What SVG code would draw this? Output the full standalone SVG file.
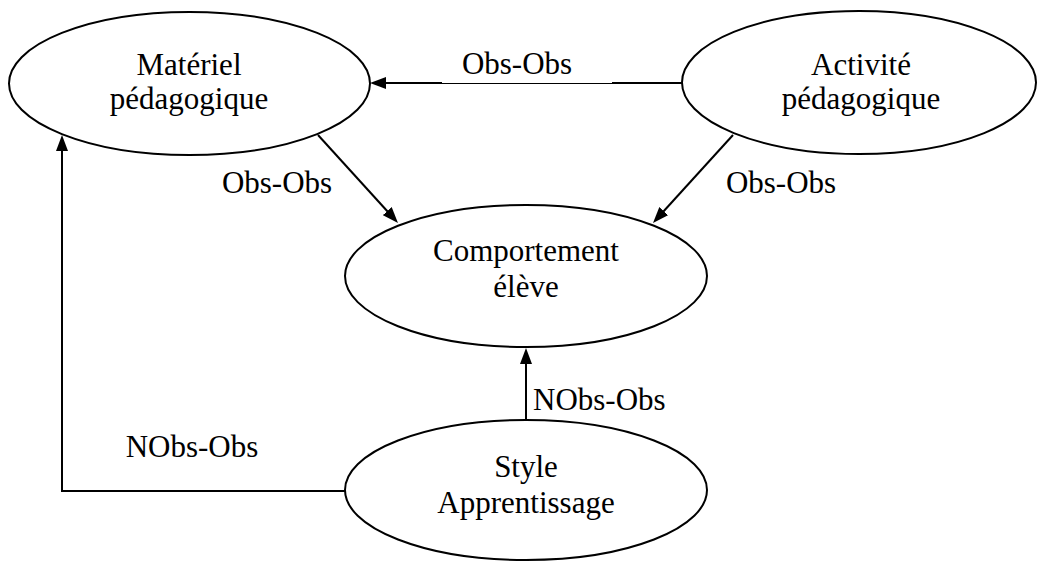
<svg xmlns="http://www.w3.org/2000/svg" width="1037" height="562" viewBox="0 0 1037 562">
  <style>
    .node ellipse { fill: #ffffff; stroke: #000000; stroke-width: 2; }
    text { font-family: "Liberation Serif", "Times New Roman", serif; font-size: 31px; fill: #000000; }
    .c { text-anchor: middle; }
    .edge { fill: none; stroke: #000000; stroke-width: 2; }
    .thin { fill: none; stroke: #000000; stroke-width: 1; }
  </style>
  <defs>
    <marker id="arrow" markerUnits="userSpaceOnUse" markerWidth="16" markerHeight="12" refX="12" refY="6" orient="auto">
      <path d="M0,0 L16,6 L0,12 z" fill="#000000"/>
    </marker>
  </defs>
  <rect x="0" y="0" width="1037" height="562" fill="#ffffff"/>

  <g id="connectors">
    <g id="e-activite-materiel">
      <line class="edge" x1="682" y1="83" x2="612" y2="83"/>
      <line class="thin" x1="612" y1="83.5" x2="442" y2="83.5"/>
      <line class="edge" x1="442" y1="83" x2="374" y2="83" marker-end="url(#arrow)"/>
      <text class="c" x="517" y="74">Obs-Obs</text>
    </g>
    <g id="e-materiel-comportement">
      <line class="edge" x1="318" y1="135" x2="395.3" y2="220" marker-end="url(#arrow)"/>
      <text class="c" x="277" y="193">Obs-Obs</text>
    </g>
    <g id="e-activite-comportement">
      <line class="edge" x1="733" y1="135" x2="655.7" y2="220" marker-end="url(#arrow)"/>
      <text class="c" x="781" y="193">Obs-Obs</text>
    </g>
    <g id="e-style-comportement">
      <line class="edge" x1="526" y1="419" x2="526" y2="352" marker-end="url(#arrow)"/>
      <text x="533" y="410">NObs-Obs</text>
    </g>
    <g id="e-style-materiel">
      <polyline class="edge" points="345,491 62,491 62,139" marker-end="url(#arrow)"/>
      <text class="c" x="192" y="457">NObs-Obs</text>
    </g>
  </g>

  <g id="n-materiel" class="node">
    <ellipse cx="189.5" cy="83.5" rx="180.5" ry="71.5"/>
    <text class="c" x="189" y="75">Matériel</text>
    <text class="c" x="189" y="109">pédagogique</text>
  </g>
  <g id="n-activite" class="node">
    <ellipse cx="859" cy="82.5" rx="177" ry="71.5"/>
    <text class="c" x="861" y="75">Activité</text>
    <text class="c" x="861" y="109">pédagogique</text>
  </g>
  <g id="n-comportement" class="node">
    <ellipse cx="526" cy="276" rx="181" ry="71"/>
    <text class="c" x="526" y="261">Comportement</text>
    <text class="c" x="526" y="297">élève</text>
  </g>
  <g id="n-style" class="node">
    <ellipse cx="526" cy="490" rx="181" ry="70"/>
    <text class="c" x="526" y="477">Style</text>
    <text class="c" x="526" y="513">Apprentissage</text>
  </g>
</svg>
